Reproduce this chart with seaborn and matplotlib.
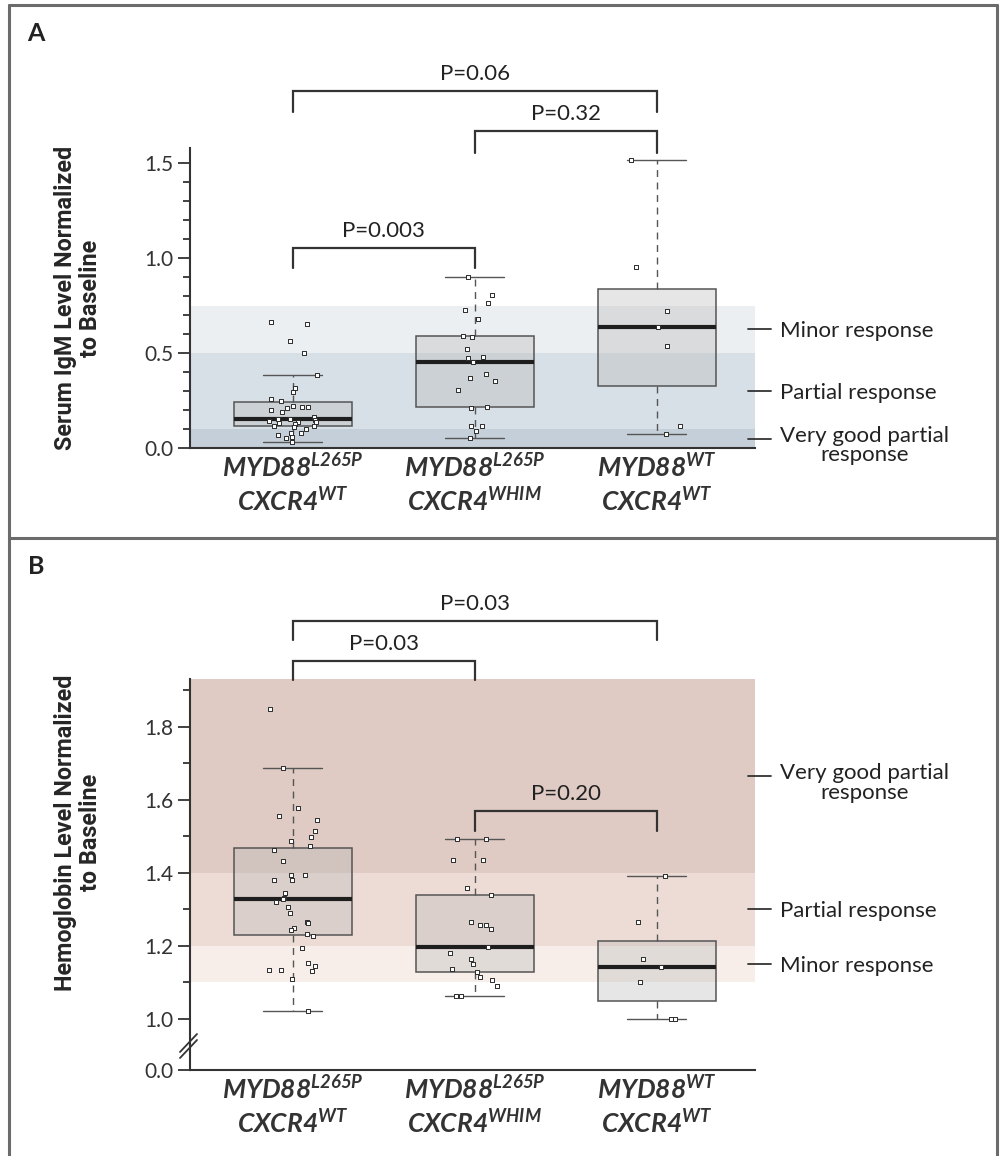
import numpy as np
import pandas as pd
import matplotlib
matplotlib.use("Agg")
import matplotlib.pyplot as plt
import matplotlib.transforms as mtransforms
from matplotlib.lines import Line2D
from matplotlib.ticker import MultipleLocator, FormatStrFormatter
import seaborn as sns

# ---- data ----
group_keys = ["L265P/WT", "L265P/WHIM", "WT/WT"]
group_labels = [
    r"$\mathbfit{MYD88}^{\mathbfit{L265P}}$" + "\n" + r"$\mathbfit{CXCR4}^{\mathbfit{WT}}$",
    r"$\mathbfit{MYD88}^{\mathbfit{L265P}}$" + "\n" + r"$\mathbfit{CXCR4}^{\mathbfit{WHIM}}$",
    r"$\mathbfit{MYD88}^{\mathbfit{WT}}$" + "\n" + r"$\mathbfit{CXCR4}^{\mathbfit{WT}}$",
]

# panel A: serum IgM normalized to baseline
igm_l265p_wt = [0.663, 0.651, 0.563, 0.498, 0.384, 0.314, 0.293, 0.260, 0.247, 0.221,
                0.217, 0.215, 0.213, 0.200, 0.188, 0.161, 0.155, 0.151, 0.150, 0.140,
                0.137, 0.135, 0.133, 0.125, 0.118, 0.116, 0.110, 0.098, 0.080, 0.077,
                0.068, 0.060, 0.054, 0.033]
igm_l265p_whim = [0.900, 0.807, 0.763, 0.726, 0.679, 0.591, 0.586, 0.521, 0.479, 0.475,
                  0.454, 0.389, 0.367, 0.353, 0.305, 0.218, 0.209, 0.118, 0.118, 0.089,
                  0.054]
igm_wt_wt = [1.515, 0.953, 0.723, 0.635, 0.537, 0.118, 0.075]

# panel B: hemoglobin normalized to baseline
hgb_l265p_wt = [1.849, 1.687, 1.577, 1.554, 1.545, 1.513, 1.497, 1.488, 1.472, 1.463,
                1.433, 1.394, 1.394, 1.381, 1.380, 1.344, 1.332, 1.328, 1.319, 1.306,
                1.291, 1.265, 1.262, 1.248, 1.244, 1.232, 1.228, 1.194, 1.153, 1.145,
                1.134, 1.131, 1.134, 1.110, 1.023]
hgb_l265p_whim = [1.492, 1.492, 1.434, 1.434, 1.359, 1.339, 1.265, 1.258, 1.257, 1.247,
                  1.197, 1.180, 1.164, 1.150, 1.136, 1.128, 1.114, 1.107, 1.090, 1.064,
                  1.062]
hgb_wt_wt = [1.392, 1.265, 1.164, 1.142, 1.100, 1.000, 1.000]

igm_bands = [(0.0, 0.1), (0.1, 0.5), (0.5, 0.75)]
igm_band_labels = ["Very good partial\nresponse", "Partial response", "Minor response"]
hgb_bands = [(1.1, 1.2), (1.2, 1.4), (1.4, 1.93)]
hgb_band_labels = ["Minor response", "Partial response", "Very good partial\nresponse"]

igm_pairs = [(0, 1), (1, 2), (0, 2)]
igm_pvals = ["P=0.003", "P=0.32", "P=0.06"]
hgb_pairs = [(0, 1), (1, 2), (0, 2)]
hgb_pvals = ["P=0.03", "P=0.20", "P=0.03"]

# ---- styling ----
sns.set_style("ticks")
plt.rcParams["font.family"] = ["Lato", "DejaVu Sans"]
plt.rcParams["mathtext.fontset"] = "custom"
plt.rcParams["mathtext.bfit"] = "Lato:italic:bold"
plt.rcParams["mathtext.rm"] = "Lato"
plt.rcParams["text.color"] = "#222222"
plt.rcParams["axes.edgecolor"] = "#333333"
plt.rcParams["xtick.color"] = "#333333"
plt.rcParams["ytick.color"] = "#333333"
np.random.seed(7)

igm_colors = ["#c5cfd9", "#d7dfe7", "#eceff2"]
hgb_colors = ["#f7eeea", "#eddcd6", "#dfcbc3"]
label_size = 16

W, H = 1002, 1156
fig = plt.figure(figsize=(W / 100, H / 100), dpi=100)


def rect(left, top, right, bottom):
    return [left / W, 1 - bottom / H, (right - left) / W, (bottom - top) / H]


ax_a = fig.add_axes(rect(190, 148, 755, 448))
ax_b = fig.add_axes(rect(190, 679, 755, 1045))
ax_b0 = fig.add_axes(rect(190, 1045, 755, 1070))
XLIM = (-0.565, 2.54)


def draw_groups(ax, values):
    df = pd.DataFrame({
        "group": np.repeat(group_keys, [len(v) for v in values]),
        "value": np.concatenate(values),
    })
    sns.boxplot(data=df, x="group", y="value", order=group_keys, width=0.65,
                whis=1.5, showfliers=False, linecolor="#555555", linewidth=1.1,
                boxprops=dict(facecolor=(0.72, 0.72, 0.72, 0.35)),
                medianprops=dict(color="#1e1e1e", linewidth=3),
                whiskerprops=dict(linestyle=(0, (5, 4)), linewidth=1.0),
                capprops=dict(linewidth=1.0), ax=ax)
    sns.stripplot(data=df, x="group", y="value", order=group_keys, jitter=0.14,
                  marker="s", size=3.4, color="white", edgecolor="#2b2b2b",
                  linewidth=0.7, ax=ax, zorder=4)


def bands(ax, spans, colors):
    for (lo, hi), c in zip(spans, colors):
        ax.axhspan(lo, hi, color=c, zorder=0, lw=0)


def response_labels(ax, spans, labels):
    trans = mtransforms.blended_transform_factory(ax.transAxes, ax.transData)
    for (lo, hi), lab in zip(spans, labels):
        y = (lo + hi) / 2
        ax.plot([0.988, 1.028], [y, y], transform=trans, color="#333333", lw=1.3,
                clip_on=False)
        if "\n" in lab:
            ax.annotate(lab, xy=(1.044, y), xycoords=trans, xytext=(0, 9),
                        textcoords="offset points", ha="left", va="top",
                        multialignment="center", fontsize=label_size, linespacing=0.95,
                        annotation_clip=False)
        else:
            ax.text(1.044, y, lab, transform=trans, ha="left", va="center_baseline",
                    fontsize=label_size)


def brackets(ax, pairs, pvals, heights):
    for (x0, x1), lab, (top, tip) in zip(pairs, pvals, heights):
        ax.plot([x0, x0, x1, x1], [tip, top, top, tip], color="#333333", lw=1.6,
                clip_on=False, solid_joinstyle="miter")
        ax.annotate(lab, xy=((x0 + x1) / 2, top), xytext=(0, 8),
                    textcoords="offset points", ha="center", va="baseline",
                    fontsize=label_size, annotation_clip=False)


def style_y(ax):
    ax.tick_params(axis="y", which="major", length=8.6, width=1.3, pad=3.5,
                   labelsize=15, direction="out")
    ax.tick_params(axis="y", which="minor", length=5, width=1.3, direction="out")
    ax.yaxis.set_major_formatter(FormatStrFormatter("%.1f"))
    for s in ["left", "bottom"]:
        ax.spines[s].set_linewidth(1.5)
    ax.spines["top"].set_visible(False)
    ax.spines["right"].set_visible(False)


ylab_kw = dict(fontsize=16.8, fontweight="bold", family=["Roboto", "DejaVu Sans"],
               linespacing=1.12)

# ---- panel A ----
bands(ax_a, igm_bands, igm_colors)
draw_groups(ax_a, [igm_l265p_wt, igm_l265p_whim, igm_wt_wt])
ax_a.set_xlim(*XLIM)
ax_a.set_ylim(0, 1.579)
ax_a.yaxis.set_major_locator(MultipleLocator(0.5))
ax_a.yaxis.set_minor_locator(MultipleLocator(0.1))
style_y(ax_a)
ax_a.set_xticks(range(3), group_labels)
ax_a.tick_params(axis="x", length=0, pad=4, labelsize=19)
ax_a.set_xlabel("")
ax_a.set_ylabel("Serum IgM Level Normalized\nto Baseline", **ylab_kw)
ax_a.yaxis.set_label_coords(-0.156, 0.5)
response_labels(ax_a, igm_bands, igm_band_labels)
brackets(ax_a, igm_pairs, igm_pvals, [(1.053, 0.947), (1.668, 1.553), (1.879, 1.768)])

# ---- panel B (broken axis) ----
bands(ax_b, hgb_bands, hgb_colors)
draw_groups(ax_b, [hgb_l265p_wt, hgb_l265p_whim, hgb_wt_wt])
ax_b.set_xlim(*XLIM)
ax_b.set_ylim(0.929, 1.93)
ax_b.yaxis.set_major_locator(MultipleLocator(0.2))
ax_b.yaxis.set_minor_locator(MultipleLocator(0.1))
style_y(ax_b)
ax_b.spines["bottom"].set_visible(False)
ax_b.set_xticks([])
ax_b.set_xlabel("")
ax_b.set_ylabel("Hemoglobin Level Normalized\nto Baseline", **ylab_kw)
ax_b.yaxis.set_label_coords(-0.156, 0.58)
response_labels(ax_b, hgb_bands, hgb_band_labels)
brackets(ax_b, hgb_pairs, hgb_pvals, [(1.978, 1.926), (1.570, 1.515), (2.088, 2.036)])

ax_b0.set_facecolor("none")
ax_b0.set_xlim(*XLIM)
ax_b0.set_ylim(0, 0.0685)
ax_b0.set_yticks([0.0])
style_y(ax_b0)
ax_b0.set_xticks(range(3), group_labels)
ax_b0.tick_params(axis="x", length=0, pad=4, labelsize=19)

# axis break marks
for dy in (0, 6):
    fig.add_artist(Line2D([180 / W, 197 / W], [1 - (1058 - dy) / H, 1 - (1040 - dy) / H],
                          transform=fig.transFigure, color="#333333", lw=1.3))

# panel frame and letters
frame_c = "#6b6b6b"
for xs, ys in [([9, 9], [5, 1160]), ([997, 997], [5, 1160]),
               ([9, 997], [5, 5]), ([9, 997], [538, 538])]:
    fig.add_artist(Line2D([x / W for x in xs], [1 - y / H for y in ys],
                          transform=fig.transFigure, color=frame_c, lw=2.2))
fig.text(27 / W, 1 - 41 / H, "A", fontsize=18, fontweight="bold", va="baseline")
fig.text(28 / W, 1 - 574 / H, "B", fontsize=18, fontweight="bold", va="baseline")

fig.savefig("out.png", dpi=100)
